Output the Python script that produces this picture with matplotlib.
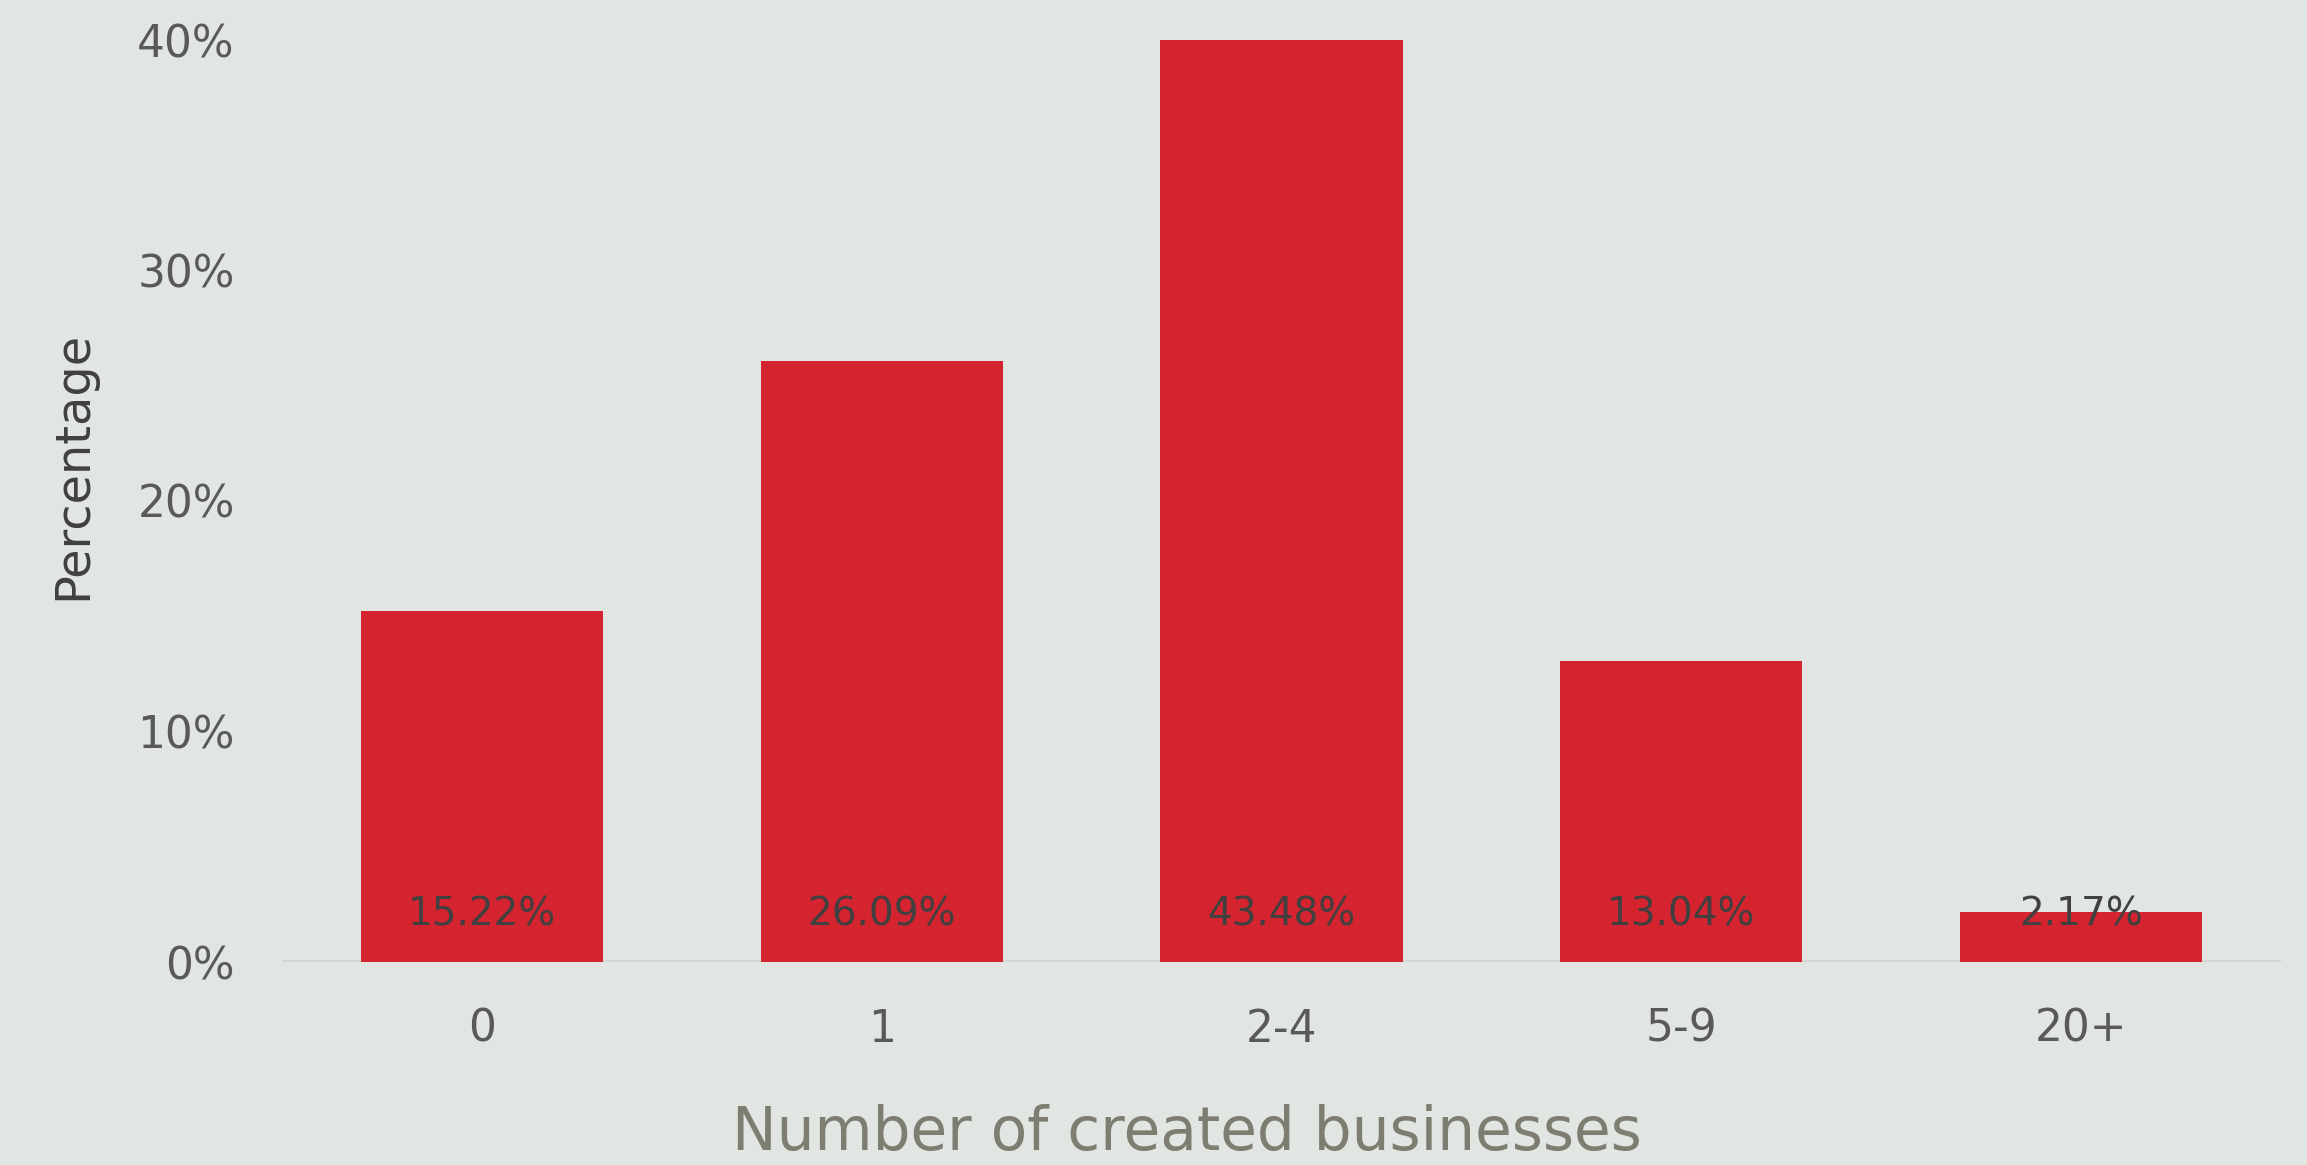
import matplotlib
matplotlib.use("Agg")
import matplotlib.pyplot as plt
from matplotlib import font_manager

# share of founders by number of businesses created
categories = ['0', '1', '2-4', '5-9', '20+']
shares = [15.22, 26.09, 43.48, 13.04, 2.17]
y_ticks = [0, 10, 20, 30, 40]

bg = '#e1e6e2'
red = '#d3242f'

# narrow font for the value labels, if it is there
installed = {f.name for f in font_manager.fontManager.ttflist}
if 'Liberation Sans Narrow' in installed:
    label_font, label_size = 'Liberation Sans Narrow', 32
else:
    label_font, label_size = 'DejaVu Sans', 28

W, H = 2307, 1165
fig = plt.figure(figsize=(W / 100, H / 100), dpi=100)
fig.set_facecolor(bg)

left, right, top, bottom = 282, 2281, 40, 962
ax = fig.add_axes([left / W, 1 - bottom / H, (right - left) / W, (bottom - top) / H])
ax.set_facecolor(bg)

x = range(len(categories))
ax.bar(x, shares, width=0.606, color=red, zorder=3)
ax.axhline(0, color='#d2d4d2', linewidth=2.6, zorder=2)

for xi, v in zip(x, shares):
    ax.text(xi, 1.6, f'{v:.2f}%', ha='center', va='baseline',
            fontsize=label_size, family=label_font, color='#404040', zorder=4)

ax.set_xlim(-0.5, len(categories) - 0.5)
ax.set_ylim(0, 40)
ax.set_xticks(list(x))
ax.set_xticklabels(categories)
ax.set_yticks(y_ticks)
ax.set_yticklabels([f'{t}%' for t in y_ticks])
ax.tick_params(axis='both', length=0, labelsize=31.6, labelcolor='#595959')
ax.tick_params(axis='y', pad=34)
ax.tick_params(axis='x', pad=33)

for s in ax.spines.values():
    s.set_visible(False)

fig.text(73 / W, 1 - 465 / H, 'Percentage', rotation=90, ha='center', va='center',
         fontsize=34.5, color='#404040')
fig.text(1187 / W, 1 - 1150 / H, 'Number of created businesses', ha='center',
         va='baseline', fontsize=43, color='#7d7d72')

fig.savefig('out.png', dpi=100, facecolor=bg)
